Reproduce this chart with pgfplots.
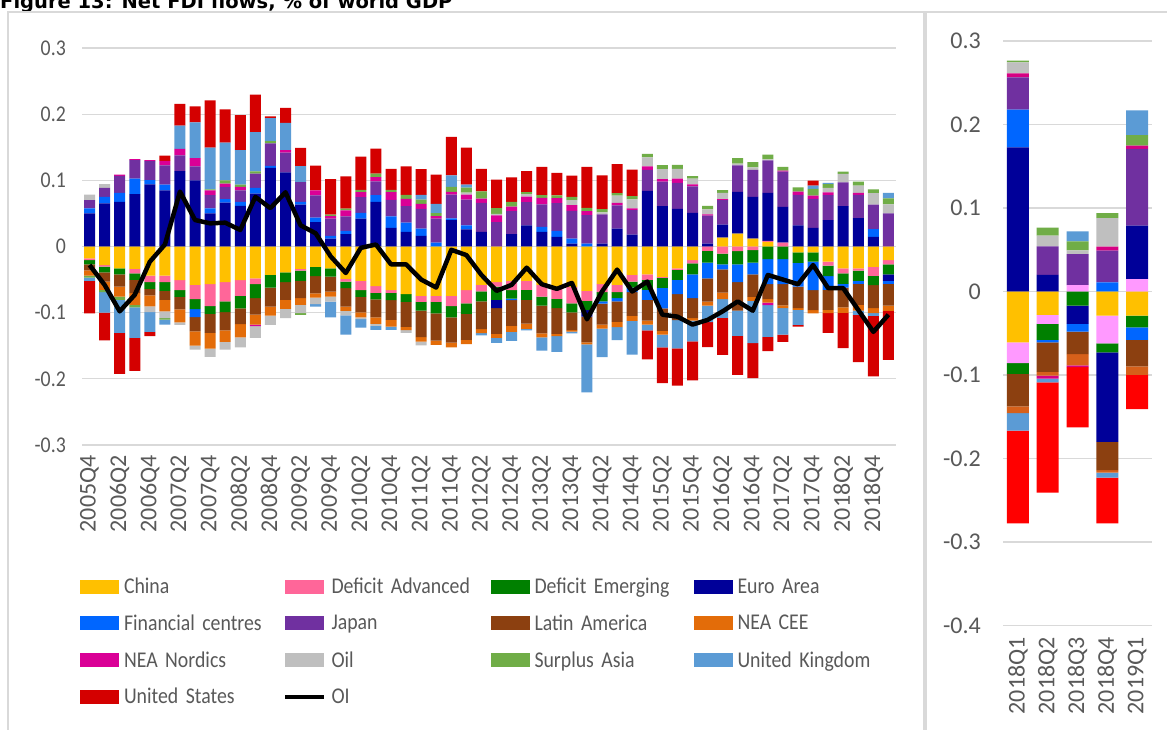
\documentclass[border=0pt]{standalone}
\usepackage{pgfplots}
\pgfplotsset{compat=1.18}
\usepackage{pgfplotstable}
\usepackage{fontspec}
\setmainfont{Carlito}
\newfontfamily\cond{Carlito}[FakeStretch=0.88]
\newfontfamily\titlefont{DejaVu Sans}

\definecolor{cCN}{HTML}{FFC000}
\definecolor{cDA}{HTML}{FF6699}
\definecolor{cDE}{HTML}{008000}
\definecolor{cEA}{HTML}{000099}
\definecolor{cFC}{HTML}{0066FF}
\definecolor{cJP}{HTML}{7030A0}
\definecolor{cLA}{RGB}{140,64,16}
\definecolor{cCEE}{HTML}{E36C09}
\definecolor{cNN}{RGB}{218,0,150}
\definecolor{cOIL}{HTML}{BFBFBF}
\definecolor{cSA}{HTML}{70AD47}
\definecolor{cUK}{HTML}{5B9BD5}
\definecolor{cUS}{RGB}{212,0,0}
\definecolor{rDA}{HTML}{FF99FF}
\definecolor{rCEE}{RGB}{214,96,26}
\definecolor{rNN}{RGB}{214,0,130}
\definecolor{rUS}{HTML}{FF0000}
\definecolor{gridc}{HTML}{D9D9D9}
\definecolor{tickc}{HTML}{595959}

\pgfplotstableread{
i CN DA DE EA FC JP LA CEE NN OIL SA UK US OI
0 -0.018 -0.0025 -0.0065 0.05 0.0075 0.0125 -0.009 -0.008 0 0.0085 -0.003 -0.005 -0.049 -0.028
1 -0.028 -0.0025 -0.0085 0.065 0.01 0.0136 -0.014 -0.0125 0 0.0055 -0.0035 -0.031 -0.042 -0.058
2 -0.033 0 -0.009 0.0675 0.0136 0.0257 -0.0186 -0.015 0.002 0 -0.005 -0.05 -0.062 -0.098
3 -0.034 -0.0065 -0.01 0.079 0.0237 0.0277 -0.02 -0.0176 0.0015 0 -0.004 -0.046 -0.05 -0.073
4 -0.044 -0.01 -0.01 0.094 0.0065 0.0287 -0.01 -0.0166 0.0015 -0.0085 0 -0.03 -0.0065 -0.023
5 -0.044 -0.01 -0.013 0.085 0.0085 0.029 -0.0136 -0.0176 0.007 -0.01 -0.0025 -0.0075 0.008 0.003
6 -0.051 -0.015 -0.01 0.114 0 0.0237 -0.019 -0.0196 0.01 -0.004 0 0.035 0.033 0.083
7 -0.058 -0.0216 -0.015 0.1 -0.012 0.021 -0.0216 -0.0216 0.0126 -0.006 0 0.054 0.024 0.04
8 -0.057 -0.033 -0.012 0.05 0.0075 0.02 -0.0287 -0.0237 0.0075 -0.0126 0.0015 0.063 0.0715 0.035
9 -0.054 -0.029 -0.016 0.0665 0.005 0.0186 -0.0277 -0.0176 0.005 -0.0116 0.005 0.057 0.05 0.036
10 -0.051 -0.0237 -0.019 0.0614 0.006 0.0176 -0.0237 -0.02 0.005 -0.015 0.0035 0.052 0.053 0.025
11 -0.048 -0.009 -0.021 0.08 0.0085 0.0216 -0.025 -0.015 -0.0025 -0.0176 0.0035 0.0594 0.0564 0.075
12 -0.043 0 -0.019 0.119 0.003 0.0337 -0.0287 -0.0136 0 -0.014 0.0035 0.035 0.0025 0.058
13 -0.039 0 -0.015 0.112 0 0.0297 -0.0267 -0.0136 0.004 -0.014 0 0.041 0.023 0.082
14 -0.034 -0.0025 -0.0156 0.0634 0.004 0.03 -0.026 -0.01 0 -0.0126 -0.0025 0.024 0.0277 0.032
15 -0.0307 0 -0.014 0.037 0.0065 0.0337 -0.026 -0.0065 0.0075 -0.01 0 -0.0035 0.0377 0.02
16 -0.033 0 -0.0126 0.012 0.004 0.026 -0.0227 -0.0075 0.004 -0.0075 0.002 -0.0237 0.054 -0.015
17 -0.049 -0.004 -0.01 0.0186 0.005 0.022 -0.0277 -0.0065 0.009 -0.007 0.0025 -0.029 0.049 -0.04
18 -0.052 -0.014 -0.01 0.042 0.009 0.0237 -0.0237 -0.0075 0.0075 -0.0025 0.0035 -0.013 0.05 -0.002
19 -0.06 -0.01 -0.01 0.0675 0.01 0.021 -0.027 -0.01 0.0065 -0.003 0.005 -0.006 0.038 0.003
20 -0.066 -0.004 -0.011 0.028 0.0176 0.025 -0.03 -0.01 0.0116 0 0.0035 -0.005 0.0317 -0.027
21 -0.072 0 -0.0116 0.022 0.014 0.025 -0.0378 -0.005 0.011 -0.004 0.006 0 0.043 -0.027
22 -0.0745 -0.009 -0.0136 0.016 0.011 0.03 -0.04 -0.0065 0.0075 -0.006 0.0065 0.007 0.039 -0.05
23 -0.0745 -0.009 -0.0176 0 0.006 0.036 -0.041 -0.0065 0.004 0 0.0045 0.014 0.044 -0.062
24 -0.0745 -0.0156 -0.017 0.04 0.0025 0.036 -0.038 -0.0075 0.004 0 0.0075 0.0176 0.058 -0.005
25 -0.066 -0.02 -0.016 0.026 0.006 0.039 -0.039 -0.0065 0.0075 0.003 0.0075 0.0045 0.056 -0.013
26 -0.058 -0.01 -0.015 0.022 0 0.044 -0.042 -0.006 0.0065 0 0.011 -0.0035 0.034 -0.043
27 -0.054 -0.0065 -0.02 -0.0126 0 0.037 -0.039 -0.006 0.01 0.0025 0.0085 -0.0075 0.043 -0.067
28 -0.052 -0.014 -0.0126 0.0186 -0.0025 0.035 -0.039 -0.009 0.0065 0 0.0075 -0.0136 0.037 -0.058
29 -0.052 -0.0136 -0.015 0.032 0 0.035 -0.036 -0.008 0.0085 0.0035 0.003 -0.002 0.032 -0.032
30 -0.058 -0.0176 -0.0136 0.022 0.0075 0.034 -0.042 -0.006 0.01 0 0.004 -0.02 0.043 -0.057
31 -0.064 -0.015 -0.014 0.0146 0.009 0.042 -0.039 -0.0035 0.0075 0 0.004 -0.0237 0.034 -0.064
32 -0.061 -0.025 -0.0136 0.0045 0.0075 0.042 -0.0267 -0.0025 0.0085 0.0075 0.005 -0.0025 0.032 -0.055
33 -0.067 -0.015 -0.014 -0.01 0.0045 0.043 -0.039 -0.003 0.006 0 0.005 -0.0725 0.062 -0.11
34 -0.057 -0.012 -0.014 0.0045 -0.0035 0.044 -0.0317 -0.006 0 0.003 0.005 -0.043 0.051 -0.068
35 -0.058 -0.011 -0.009 0.027 -0.005 0.035 -0.031 -0.008 0.004 0.011 0.0035 -0.0196 0.044 -0.035
36 -0.043 -0.01 -0.009 0.018 -0.007 0.037 -0.036 -0.0075 0.0025 0.0136 0.005 -0.051 0.04 -0.068
37 -0.042 -0.0085 -0.015 0.084 -0.015 0.032 -0.0317 -0.006 0.005 0.0136 0.0055 -0.0085 -0.044 -0.053
38 -0.046 -0.0015 -0.015 0.061 -0.031 0.037 -0.034 -0.0055 0.004 0.015 0.006 -0.0196 -0.054 -0.103
39 -0.033 -0.0025 -0.015 0.057 -0.0216 0.039 -0.039 0 0.0065 0.015 0.006 -0.043 -0.056 -0.106
40 -0.0206 -0.005 -0.0166 0.051 -0.036 0.04 -0.03 -0.004 0.003 0.0085 0.004 -0.031 -0.059 -0.118
41 0 -0.0065 -0.018 0.0045 -0.0237 0.042 -0.035 -0.006 0.002 0.0075 0.0055 -0.025 -0.038 -0.111
42 0.0136 -0.0106 -0.0166 0.0196 -0.0075 0.037 -0.035 -0.01 0.0015 0.0095 0.004 -0.028 -0.056 -0.098
43 0.0196 -0.007 -0.02 0.063 -0.027 0.04 -0.043 0 0 0.0025 0.0085 -0.038 -0.059 -0.083
44 0.012 -0.0055 -0.019 0.063 -0.0176 0.041 -0.034 -0.006 0 0.0035 0.008 -0.064 -0.053 -0.097
45 0.007 0.0015 -0.019 0.0725 -0.038 0.049 -0.0227 -0.005 -0.004 0.0015 0.0075 -0.048 -0.0216 -0.043
46 0 0.006 -0.019 0.054 -0.038 0.053 -0.032 -0.004 0.0015 0 0.006 -0.04 -0.011 -0.05
47 -0.009 0 -0.0156 0.032 -0.036 0.046 -0.0327 -0.0025 0.005 0 0.0065 -0.0227 -0.0025 -0.057
48 -0.009 0 -0.014 0.028 -0.043 0.044 -0.03 -0.005 0.005 0 0.01 0.005 0.0075 -0.028
49 -0.023 -0.006 -0.0156 0.04 -0.021 0.0377 -0.03 -0.005 0.004 0.007 0.0055 0.002 -0.03 -0.063
50 -0.033 -0.0075 -0.016 0.061 -0.0055 0.036 -0.03 -0.0085 0 0.0126 0.0035 0 -0.053 -0.063
51 -0.033 -0.0035 -0.0156 0.043 -0.0045 0.035 -0.0317 -0.0085 0.003 0.011 0.006 -0.0065 -0.0715 -0.096
52 -0.0307 -0.0136 -0.014 0.0146 0.0116 0.037 -0.035 -0.0075 0 0.0176 0.0055 -0.004 -0.0916 -0.129
53 -0.0206 -0.0065 -0.015 -0.01 -0.0045 0.05 -0.0327 -0.008 0 0.0136 0.009 0.0085 -0.074 -0.103
}\maindata

\pgfplotstableread{
i CN DA DE EA FC JP LA CEE NN OIL SA UK US
0 -0.061 -0.0248 -0.0128 0.1727 0.045 0.0386 -0.039 -0.008 0.0048 0.0133 0.002 -0.021 -0.111
1 -0.028 -0.0108 -0.019 0.02 -0.003 0.034 -0.0356 -0.0044 -0.0036 0.013 0.0096 -0.0044 -0.132
2 0 0.0076 -0.0168 -0.022 -0.0092 0.0373 -0.027 -0.0136 -0.002 0.0044 0.0108 0.012 -0.072
3 -0.029 -0.033 -0.011 -0.107 0.011 0.038 -0.034 -0.0028 0.0048 0.034 0.006 -0.006 -0.055
4 -0.029 0.0148 -0.014 0.064 -0.0148 0.092 -0.032 -0.01 0.004 0 0.0124 0.0297 -0.041
}\rightdata

\pgfplotsset{
  mainax/.style={scale only axis, width=814pt, height=397pt,
    at={(82pt,284pt)}, anchor=south west,
    xmin=-0.5, xmax=53.5, ymin=-0.3, ymax=0.3,
    axis line style={draw=none}, major tick length=0pt},
  rightax/.style={scale only axis, width=149pt, height=584.5pt,
    at={(1003pt,103.5pt)}, anchor=south west,
    xmin=-0.5, xmax=4.5, ymin=-0.4, ymax=0.3,
    axis line style={draw=none}, major tick length=0pt},
  swlegend/.style={legend image code/.code={\fill[##1] (0pt,-7pt) rectangle (39pt,7pt);}},
  oilegend/.style={legend image code/.code={\draw[##1] (0pt,0pt) -- (39pt,0pt);}},
}

\begin{document}
\begin{tikzpicture}
\useasboundingbox (0pt,0pt) rectangle (1167pt,729pt);
\fill[white] (0pt,0pt) rectangle (1167pt,729pt);
\node[anchor=base west, inner sep=0pt, font=\titlefont\bfseries\fontsize{19.5}{20}\selectfont] at (0pt,720pt) {Figure 13: Net FDI flows, \% of world GDP};
\draw[gridc, line width=1.5pt] (8pt,-5pt) -- (8pt,717pt) -- (1170pt,717pt);
\draw[gridc, line width=4pt] (925pt,-5pt) -- (925pt,717pt);

% main positive
\begin{axis}[mainax, ybar stacked, bar width=11pt,
  ytick={-0.3,-0.2,-0.1,0,0.1,0.2,0.3},
  yticklabels={-0.3,-0.2,-0.1,0,0.1,0.2,0.3},
  ymajorgrids, grid style={color=gridc, line width=1.2pt},
  xtick={0,2,...,52},
  xticklabels={2005Q4,2006Q2,2006Q4,2007Q2,2007Q4,2008Q2,2008Q4,2009Q2,2009Q4,2010Q2,2010Q4,2011Q2,2011Q4,2012Q2,2012Q4,2013Q2,2013Q4,2014Q2,2014Q4,2015Q2,2015Q4,2016Q2,2016Q4,2017Q2,2017Q4,2018Q2,2018Q4},
  xticklabel style={yshift=-10pt, rotate=90, anchor=east, inner sep=0pt, text=tickc, font=\fontsize{24}{24}\selectfont},
  yticklabel style={xshift=-16pt, anchor=east, inner sep=0pt, text=tickc, font=\cond\fontsize{22.5}{22.5}\selectfont},
]
\addplot[fill=cCN, draw=none] table[x=i, y expr={max(\thisrow{CN},0)}] {\maindata};
\addplot[fill=cDA, draw=none] table[x=i, y expr={max(\thisrow{DA},0)}] {\maindata};
\addplot[fill=cDE, draw=none] table[x=i, y expr={max(\thisrow{DE},0)}] {\maindata};
\addplot[fill=cEA, draw=none] table[x=i, y expr={max(\thisrow{EA},0)}] {\maindata};
\addplot[fill=cFC, draw=none] table[x=i, y expr={max(\thisrow{FC},0)}] {\maindata};
\addplot[fill=cJP, draw=none] table[x=i, y expr={max(\thisrow{JP},0)}] {\maindata};
\addplot[fill=cLA, draw=none] table[x=i, y expr={max(\thisrow{LA},0)}] {\maindata};
\addplot[fill=cCEE, draw=none] table[x=i, y expr={max(\thisrow{CEE},0)}] {\maindata};
\addplot[fill=cNN, draw=none] table[x=i, y expr={max(\thisrow{NN},0)}] {\maindata};
\addplot[fill=cOIL, draw=none] table[x=i, y expr={max(\thisrow{OIL},0)}] {\maindata};
\addplot[fill=cSA, draw=none] table[x=i, y expr={max(\thisrow{SA},0)}] {\maindata};
\addplot[fill=cUK, draw=none] table[x=i, y expr={max(\thisrow{UK},0)}] {\maindata};
\addplot[fill=cUS, draw=none] table[x=i, y expr={max(\thisrow{US},0)}] {\maindata};
\end{axis}

% main negative
\begin{axis}[mainax, ybar stacked, bar width=11pt, xtick=\empty, ytick=\empty]
\addplot[fill=cCN, draw=none] table[x=i, y expr={min(\thisrow{CN},0)}] {\maindata};
\addplot[fill=cDA, draw=none] table[x=i, y expr={min(\thisrow{DA},0)}] {\maindata};
\addplot[fill=cDE, draw=none] table[x=i, y expr={min(\thisrow{DE},0)}] {\maindata};
\addplot[fill=cEA, draw=none] table[x=i, y expr={min(\thisrow{EA},0)}] {\maindata};
\addplot[fill=cFC, draw=none] table[x=i, y expr={min(\thisrow{FC},0)}] {\maindata};
\addplot[fill=cJP, draw=none] table[x=i, y expr={min(\thisrow{JP},0)}] {\maindata};
\addplot[fill=cLA, draw=none] table[x=i, y expr={min(\thisrow{LA},0)}] {\maindata};
\addplot[fill=cCEE, draw=none] table[x=i, y expr={min(\thisrow{CEE},0)}] {\maindata};
\addplot[fill=cNN, draw=none] table[x=i, y expr={min(\thisrow{NN},0)}] {\maindata};
\addplot[fill=cOIL, draw=none] table[x=i, y expr={min(\thisrow{OIL},0)}] {\maindata};
\addplot[fill=cSA, draw=none] table[x=i, y expr={min(\thisrow{SA},0)}] {\maindata};
\addplot[fill=cUK, draw=none] table[x=i, y expr={min(\thisrow{UK},0)}] {\maindata};
\addplot[fill=cUS, draw=none] table[x=i, y expr={min(\thisrow{US},0)}] {\maindata};
\end{axis}

% OI line and legend
\begin{axis}[mainax, xtick=\empty, ytick=\empty,
  legend columns=4,
  legend style={at={(-0.00246,-0.3107)}, anchor=north west, draw=none, fill=none,
    inner sep=0pt, outer sep=0pt, row sep=0pt,
    font=\cond\fontsize{22.5}{26}\selectfont, text=tickc,
    cells={anchor=west},
    nodes={text width=159pt, minimum height=36.7pt, inner sep=0pt, align=left},
    /tikz/every odd column/.append style={column sep=5pt},
    /tikz/every even column/.append style={column sep=0pt}},
]
\addlegendimage{swlegend, fill=cCN, draw=none}\addlegendentry{China}
\addlegendimage{swlegend, fill=cDA, draw=none}\addlegendentry{Deficit Advanced}
\addlegendimage{swlegend, fill=cDE, draw=none}\addlegendentry{Deficit Emerging}
\addlegendimage{swlegend, fill=cEA, draw=none}\addlegendentry{Euro Area}
\addlegendimage{swlegend, fill=cFC, draw=none}\addlegendentry{Financial centres}
\addlegendimage{swlegend, fill=cJP, draw=none}\addlegendentry{Japan}
\addlegendimage{swlegend, fill=cLA, draw=none}\addlegendentry{Latin America}
\addlegendimage{swlegend, fill=cCEE, draw=none}\addlegendentry{NEA CEE}
\addlegendimage{swlegend, fill=cNN, draw=none}\addlegendentry{NEA Nordics}
\addlegendimage{swlegend, fill=cOIL, draw=none}\addlegendentry{Oil}
\addlegendimage{swlegend, fill=cSA, draw=none}\addlegendentry{Surplus Asia}
\addlegendimage{swlegend, fill=cUK, draw=none}\addlegendentry{United Kingdom}
\addlegendimage{swlegend, fill=cUS, draw=none}\addlegendentry{United States}
\addplot[black, line width=4.5pt, line join=round, oilegend]
  table[x=i, y=OI] {\maindata};
\addlegendentry{OI}
\end{axis}

% right positive
\begin{axis}[rightax, ybar stacked, bar width=22pt,
  ytick={-0.4,-0.3,-0.2,-0.1,0,0.1,0.2,0.3},
  yticklabels={-0.4,-0.3,-0.2,-0.1,0,0.1,0.2,0.3},
  ymajorgrids, grid style={color=gridc, line width=1.2pt},
  xtick={0,1,2,3,4},
  xticklabels={2018Q1,2018Q2,2018Q3,2018Q4,2019Q1},
  xticklabel style={yshift=-11.5pt, rotate=90, anchor=east, inner sep=0pt, text=tickc, font=\fontsize{24}{24}\selectfont},
  yticklabel style={xshift=-22pt, anchor=east, inner sep=0pt, text=tickc, font=\fontsize{24}{24}\selectfont},
]
\addplot[fill=cCN, draw=none] table[x=i, y expr={max(\thisrow{CN},0)}] {\rightdata};
\addplot[fill=rDA, draw=none] table[x=i, y expr={max(\thisrow{DA},0)}] {\rightdata};
\addplot[fill=cDE, draw=none] table[x=i, y expr={max(\thisrow{DE},0)}] {\rightdata};
\addplot[fill=cEA, draw=none] table[x=i, y expr={max(\thisrow{EA},0)}] {\rightdata};
\addplot[fill=cFC, draw=none] table[x=i, y expr={max(\thisrow{FC},0)}] {\rightdata};
\addplot[fill=cJP, draw=none] table[x=i, y expr={max(\thisrow{JP},0)}] {\rightdata};
\addplot[fill=cLA, draw=none] table[x=i, y expr={max(\thisrow{LA},0)}] {\rightdata};
\addplot[fill=rCEE, draw=none] table[x=i, y expr={max(\thisrow{CEE},0)}] {\rightdata};
\addplot[fill=rNN, draw=none] table[x=i, y expr={max(\thisrow{NN},0)}] {\rightdata};
\addplot[fill=cOIL, draw=none] table[x=i, y expr={max(\thisrow{OIL},0)}] {\rightdata};
\addplot[fill=cSA, draw=none] table[x=i, y expr={max(\thisrow{SA},0)}] {\rightdata};
\addplot[fill=cUK, draw=none] table[x=i, y expr={max(\thisrow{UK},0)}] {\rightdata};
\addplot[fill=rUS, draw=none] table[x=i, y expr={max(\thisrow{US},0)}] {\rightdata};
\end{axis}

% right negative
\begin{axis}[rightax, ybar stacked, bar width=22pt, xtick=\empty, ytick=\empty]
\addplot[fill=cCN, draw=none] table[x=i, y expr={min(\thisrow{CN},0)}] {\rightdata};
\addplot[fill=rDA, draw=none] table[x=i, y expr={min(\thisrow{DA},0)}] {\rightdata};
\addplot[fill=cDE, draw=none] table[x=i, y expr={min(\thisrow{DE},0)}] {\rightdata};
\addplot[fill=cEA, draw=none] table[x=i, y expr={min(\thisrow{EA},0)}] {\rightdata};
\addplot[fill=cFC, draw=none] table[x=i, y expr={min(\thisrow{FC},0)}] {\rightdata};
\addplot[fill=cJP, draw=none] table[x=i, y expr={min(\thisrow{JP},0)}] {\rightdata};
\addplot[fill=cLA, draw=none] table[x=i, y expr={min(\thisrow{LA},0)}] {\rightdata};
\addplot[fill=rCEE, draw=none] table[x=i, y expr={min(\thisrow{CEE},0)}] {\rightdata};
\addplot[fill=rNN, draw=none] table[x=i, y expr={min(\thisrow{NN},0)}] {\rightdata};
\addplot[fill=cOIL, draw=none] table[x=i, y expr={min(\thisrow{OIL},0)}] {\rightdata};
\addplot[fill=cSA, draw=none] table[x=i, y expr={min(\thisrow{SA},0)}] {\rightdata};
\addplot[fill=cUK, draw=none] table[x=i, y expr={min(\thisrow{UK},0)}] {\rightdata};
\addplot[fill=rUS, draw=none] table[x=i, y expr={min(\thisrow{US},0)}] {\rightdata};
\end{axis}
\end{tikzpicture}
\end{document}
